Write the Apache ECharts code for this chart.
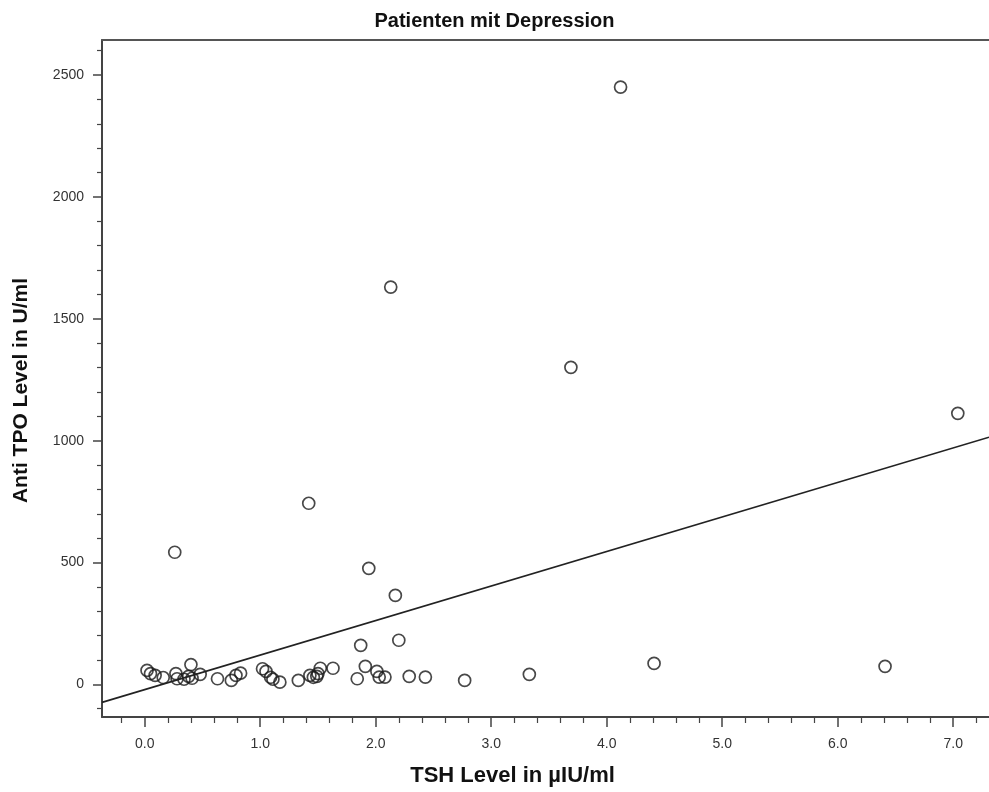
<!DOCTYPE html>
<html>
<head>
<meta charset="utf-8">
<title>Patienten mit Depression</title>
<script src="https://cdn.jsdelivr.net/npm/echarts@6/dist/echarts.min.js"></script>
<style>
html, body { margin: 0; padding: 0; background: #fff; }
#chart { width: 989px; height: 792px; }
</style>
</head>
<body>
<div id="chart"></div>
<script>
// TSH (x) und Anti-TPO (y)
var tshValues = [0.02, 0.05, 0.09, 0.16, 0.27, 0.28, 0.34, 0.40, 0.38, 0.41, 0.48, 0.63, 0.75, 0.79, 0.83,
                 1.02, 1.05, 1.09, 1.11, 1.17, 1.33, 1.43, 1.46, 1.49, 1.50, 1.52, 1.63, 1.84, 1.91, 2.01,
                 2.03, 2.08, 2.29, 2.43, 2.77, 3.33,
                 1.87, 2.20, 2.17, 1.94, 1.42, 0.26, 2.13, 3.69, 4.12, 7.04, 4.41, 6.41];
var tpoValues = [57, 44, 37, 28, 44, 23, 21, 81, 33, 25, 41, 23, 16, 37, 46,
                 64, 53, 29, 21, 9, 16, 37, 29, 33, 44, 66, 66, 23, 74, 53,
                 30, 30, 33, 30, 16, 41,
                 160, 181, 365, 476, 743, 542, 1630, 1301, 2451, 1112, 86, 74];

var xTickLabels = [0, 1, 2, 3, 4, 5, 6, 7];
var yTickLabels = [0, 500, 1000, 1500, 2000, 2500];

// Regressionsgerade
var fitIntercept = -21.6;
var fitSlope = 141.7;

var xMin = -0.37, xMax = 7.31;
var yMin = -134, yMax = 2644;

var xMinorTicks = [];
for (var i = -1; i <= 36; i++) {
    if (i % 5 != 0) xMinorTicks.push(Math.round(i * 20) / 100);
}
var yMinorTicks = [];
for (var j = -1; j <= 26; j++) {
    if (j % 5 != 0) yMinorTicks.push(j * 100);
}

var points = [];
for (var k = 0; k < tshValues.length; k++) {
    points.push([tshValues[k], tpoValues[k]]);
}
var fitLine = [
    [xMin, fitIntercept + fitSlope * xMin],
    [xMax, fitIntercept + fitSlope * xMax]
];

var axisColor = "#444";
var labelFont = "'Liberation Sans', Arial, sans-serif";

var myChart = echarts.init(document.getElementById("chart"));
myChart.setOption({
    animation: false,
    backgroundColor: "#fff",
    title: {
        text: "Patienten mit Depression",
        left: "center",
        top: 11,
        padding: 0,
        textStyle: { fontFamily: labelFont, fontSize: 20, fontWeight: "bold", color: "#111" }
    },
    grid: { left: 102, top: 40, right: 0, bottom: 75 },
    xAxis: [
        {
            type: "value", min: xMin, max: xMax,
            name: "TSH Level in µIU/ml",
            nameLocation: "middle",
            nameGap: 48,
            nameTextStyle: { fontFamily: labelFont, fontSize: 22, fontWeight: "bold", color: "#111", padding: [0, 66, 0, 0] },
            axisLine: { show: true, onZero: false, lineStyle: { color: axisColor, width: 2 } },
            axisTick: { show: true, length: 10, customValues: xTickLabels, lineStyle: { color: axisColor, width: 1.5 } },
            axisLabel: {
                customValues: xTickLabels, margin: 20,
                fontFamily: labelFont, fontSize: 14, color: "#333",
                formatter: function (v) { return v.toFixed(1); }
            },
            splitLine: { show: false }
        },
        {
            type: "value", min: xMin, max: xMax, position: "bottom",
            axisLine: { show: false, onZero: false },
            axisTick: { show: true, length: 6, customValues: xMinorTicks, lineStyle: { color: axisColor, width: 1.2 } },
            axisLabel: { show: false },
            splitLine: { show: false }
        },
        {
            type: "value", min: xMin, max: xMax, position: "top",
            axisLine: { show: true, onZero: false, lineStyle: { color: "#555", width: 2 } },
            axisTick: { show: false },
            axisLabel: { show: false },
            splitLine: { show: false }
        }
    ],
    yAxis: [
        {
            type: "value", min: yMin, max: yMax,
            name: "Anti TPO Level in U/ml",
            nameLocation: "middle",
            nameGap: 70,
            nameTextStyle: { fontFamily: labelFont, fontSize: 21, fontWeight: "bold", color: "#111", padding: [0, 24, 0, 0] },
            axisLine: { show: true, onZero: false, lineStyle: { color: axisColor, width: 2 } },
            axisTick: { show: true, length: 9, customValues: yTickLabels, lineStyle: { color: axisColor, width: 1.5 } },
            axisLabel: {
                customValues: yTickLabels, margin: 18,
                fontFamily: labelFont, fontSize: 14, color: "#333",
                formatter: function (v) { return String(v); }
            },
            splitLine: { show: false }
        },
        {
            type: "value", min: yMin, max: yMax, position: "left",
            axisLine: { show: false, onZero: false },
            axisTick: { show: true, length: 5, customValues: yMinorTicks, lineStyle: { color: axisColor, width: 1.2 } },
            axisLabel: { show: false },
            splitLine: { show: false }
        }
    ],
    series: [
        {
            type: "line",
            xAxisIndex: 0, yAxisIndex: 0,
            data: fitLine,
            symbol: "none",
            clip: true,
            lineStyle: { color: "#222", width: 1.6 },
            z: 3
        },
        {
            type: "scatter",
            xAxisIndex: 0, yAxisIndex: 0,
            data: points,
            symbol: "circle",
            symbolSize: 12,
            itemStyle: { color: "rgba(255,255,255,0)", borderColor: "#1a1a1a", borderWidth: 1.7 },
            z: 2
        }
    ]
});
</script>
</body>
</html>
